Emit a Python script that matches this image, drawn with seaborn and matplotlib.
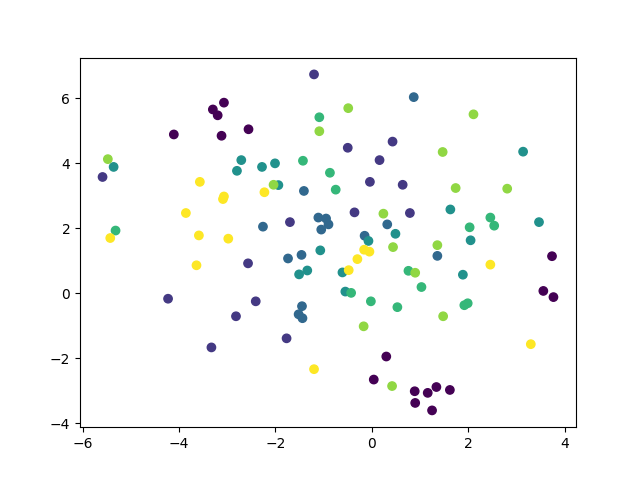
import numpy as np
import pandas as pd
import matplotlib
matplotlib.use("Agg")
import matplotlib.pyplot as plt
import seaborn as sns

# points per class
x0 = [-3.07, -3.30, -3.20, -2.56, -4.11, -3.12, 0.30, 0.04, 3.74, 3.56, 3.77, 0.89, 1.16, 1.34, 1.62, 0.90, 1.25]
y0 = [5.87, 5.66, 5.48, 5.05, 4.89, 4.85, -1.95, -2.66, 1.14, 0.07, -0.12, -3.02, -3.07, -2.89, -2.98, -3.38, -3.61]

x1 = [-5.59, -1.20, 0.43, -0.50, 0.16, -0.04, 0.64, -0.36, 0.79, -1.70, -2.57, -4.23, -2.82, -3.33, -2.41, -1.77]
y1 = [3.58, 6.74, 4.67, 4.48, 4.10, 3.43, 3.34, 2.49, 2.47, 2.19, 0.92, -0.17, -0.71, -1.67, -0.25, -1.39]

x2 = [0.87, -1.41, 0.32, -2.26, -1.11, -0.95, -0.90, -1.05, -0.15, -1.74, -1.46, -1.45, -1.52, -1.44, 1.36]
y2 = [6.04, 3.15, 2.12, 2.05, 2.33, 2.30, 2.12, 1.96, 1.77, 1.07, 1.18, -0.40, -0.65, -0.77, 1.15]

x3 = [-5.36, -2.71, -2.80, -2.28, -2.01, -1.94, 0.49, -0.07, -1.07, 3.14, 1.63, 3.47, 2.05, -1.51, -1.34, -0.61, -0.55, 1.89]
y3 = [3.89, 4.10, 3.77, 3.89, 4.00, 3.33, 1.83, 1.61, 1.32, 4.36, 2.58, 2.19, 1.63, 0.58, 0.70, 0.64, 0.05, 0.57]

x4 = [-5.32, -1.09, -1.43, -0.87, -0.75, 2.46, 2.54, 2.03, 0.76, -0.43, -0.02, 0.53, 1.03, 1.92, 1.99]
y4 = [1.93, 5.42, 4.08, 3.71, 3.19, 2.33, 2.08, 2.03, 0.69, 0.01, -0.25, -0.43, 0.19, -0.37, -0.31]

x5 = [-5.48, -0.49, -1.09, -2.04, 0.24, 0.44, 2.11, 1.47, 1.74, 2.81, 1.36, 0.90, -0.17, 0.42, 1.48]
y5 = [4.13, 5.70, 4.99, 3.34, 2.45, 1.42, 5.51, 4.35, 3.24, 3.22, 1.48, 0.63, -1.02, -2.86, -0.71]

x6 = [-3.57, -3.07, -3.09, -3.86, -5.43, -3.59, -2.98, -2.23, -0.16, -0.05, -3.64, -0.48, -0.30, -1.20, 2.46, 3.30]
y6 = [3.43, 2.98, 2.90, 2.47, 1.70, 1.78, 1.68, 3.11, 1.34, 1.28, 0.86, 0.71, 1.05, -2.34, 0.88, -1.57]

xs = [x0, x1, x2, x3, x4, x5, x6]
ys = [y0, y1, y2, y3, y4, y5, y6]

df = pd.DataFrame({
    "x": np.concatenate(xs),
    "y": np.concatenate(ys),
    "label": np.concatenate([[i] * len(a) for i, a in enumerate(xs)]),
})

palette = {i: plt.cm.viridis(i / 6) for i in range(7)}

fig, ax = plt.subplots(figsize=(6.4, 4.8), dpi=100)
sns.scatterplot(data=df, x="x", y="y", hue="label", palette=palette,
                s=36, edgecolor="face", linewidth=1.0, legend=False, ax=ax)
ax.set_xlabel("")
ax.set_ylabel("")

fig.savefig("out.png")
